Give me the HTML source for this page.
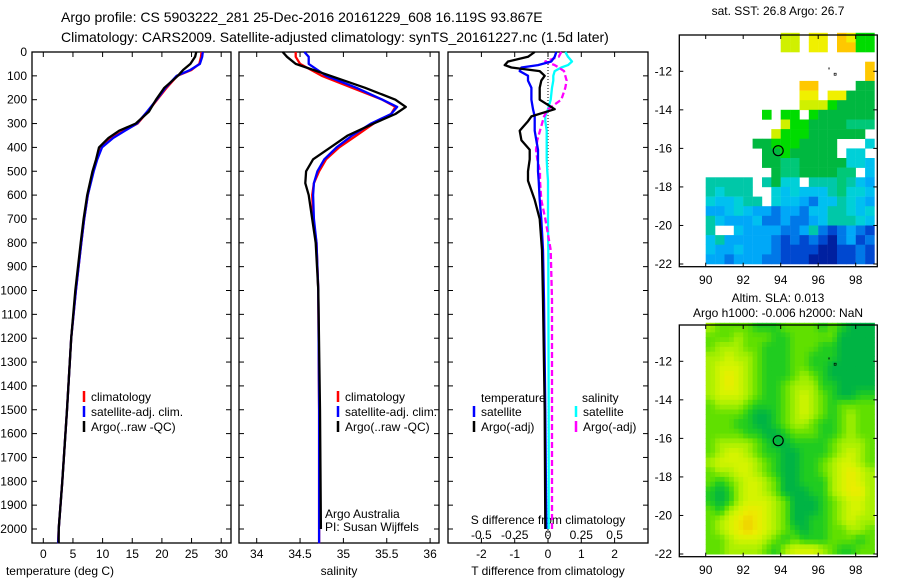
<!DOCTYPE html>
<html><head><meta charset="utf-8"><style>
html,body{margin:0;padding:0;background:#fff;}
svg{display:block;font-family:"Liberation Sans",sans-serif;}
text{fill:#000;}
</style></head><body>
<svg id="fig" width="900" height="580" viewBox="0 0 900 580">
<text x="61" y="22" font-size="14">Argo profile: CS 5903222_281 25-Dec-2016 20161229_608 16.119S 93.867E</text>
<text x="61" y="42" font-size="14">Climatology: CARS2009. Satellite-adjusted climatology: synTS_20161227.nc (1.5d later)</text>
<text x="60" y="575" font-size="12" text-anchor="middle">temperature (deg C)</text>
<text x="339" y="575" font-size="12" text-anchor="middle">salinity</text>
<text x="548" y="575" font-size="12" text-anchor="middle">T difference from climatology</text>
<text x="548" y="524" font-size="12" text-anchor="middle">S difference from climatology</text>
<text x="325" y="518" font-size="12">Argo Australia</text>
<text x="325" y="531" font-size="12">PI: Susan Wijffels</text>
<text x="778" y="15" font-size="12" text-anchor="middle">sat. SST: 26.8 Argo: 26.7</text>
<text x="778" y="302" font-size="12" text-anchor="middle">Altim. SLA: 0.013</text>
<text x="778" y="317" font-size="12" text-anchor="middle">Argo h1000: -0.006 h2000: NaN</text>
<text transform="translate(893,450) rotate(-90)" font-size="12" text-anchor="middle">©IMOS 03-Jan-2017 20:40:44</text>
</svg>
<script>
// ---- data ----
const depthTicks=[0,100,200,300,400,500,600,700,800,900,1000,1100,1200,1300,1400,1500,1600,1700,1800,1900,2000];
const tempTicks=[0,5,10,15,20,25,30];
const salTicks=[34,34.5,35,35.5,36];
const tdiffTicks=[-2,-1,0,1,2];
const sdiffTicks=[-0.5,-0.25,0,0.25,0.5];
const sdiffTickLabels=["-0.5","-0.25","0","0.25","0.5"];

const tDepth=[0,20,50,75,100,150,200,250,300,330,360,400,450,500,600,700,800,1000,1200,1500,1800,2000,2060];
const tClim=[26.7,26.6,26.3,25.0,22.6,20.8,19.2,17.6,15.9,13.6,11.5,9.7,9.0,8.4,7.5,6.9,6.4,5.5,4.7,4.0,3.2,2.6,2.5];
const tSat=[26.9,26.8,26.4,24.8,22.5,20.6,19.1,17.5,15.8,13.8,11.8,9.9,9.1,8.5,7.5,6.9,6.4,5.5,4.7,4.0,3.2,2.6,2.5];
const tArgo=[25.8,25.6,24.8,23.6,22.7,20.4,19.0,17.8,15.6,12.8,11.0,9.4,8.9,8.3,7.4,6.8,6.3,5.4,4.7,4.0,3.2,2.6,2.6];

const sDepth=[0,20,50,100,150,200,230,260,300,350,400,450,500,550,600,700,800,1000,1500,2000,2060];
const sClim=[34.45,34.45,34.5,34.75,35.1,35.45,35.6,35.55,35.35,35.15,34.95,34.8,34.72,34.66,34.64,34.65,34.69,34.71,34.72,34.72,34.72];
const sSat=[34.55,34.6,34.6,34.8,35.15,35.45,35.62,35.55,35.32,35.1,34.92,34.78,34.7,34.66,34.65,34.66,34.69,34.71,34.72,34.72,34.72];
const sArgo=[34.3,34.35,34.45,34.85,35.25,35.6,35.72,35.6,35.35,35.05,34.85,34.65,34.57,34.56,34.6,34.64,34.68,34.71,34.73,34.74];

const dDepth=[0,20,40,55,65,80,100,120,150,200,240,270,290,330,370,410,450,500,540,620,700,830,1040,1500,2000];
const tdSat=[0.25,0.2,0.1,-0.3,-0.8,-0.85,-0.6,-0.6,-0.5,-0.5,-0.45,-0.4,-0.4,-0.4,-0.35,-0.3,-0.3,-0.3,-0.28,-0.25,-0.2,-0.15,-0.12,-0.08,-0.05];
const tdArgo=[-0.4,-0.6,-1.2,-1.3,-1.1,-0.25,-0.1,-0.2,-0.25,-0.25,0.2,-0.5,-0.6,-0.85,-0.8,-0.55,-0.55,-0.6,-0.6,-0.4,-0.25,-0.18,-0.15,-0.1,-0.08];
const sdSat=[0.13,0.15,0.18,0.15,0.1,0.05,0.04,0.04,0.03,0.02,0.0,-0.02,-0.02,-0.01,-0.01,-0.01,-0.01,-0.005,0.0,0.0,0.0,0.002,0.003,0.005,0.005];
const sdArgo=[0.1,0.08,-0.02,0.05,0.08,0.12,0.13,0.14,0.13,0.1,0.0,-0.03,-0.04,-0.06,-0.08,-0.09,-0.08,-0.06,-0.06,-0.05,-0.02,0.02,0.03,0.03,0.03];

const sstRows=[
"........ll.yy.oygg","........ll.yy.oogg","..................",".................o",".................o",
"..........oo....GG","..........yy.yyGGG","..........lllgGGGG","......g.gg.gGGGGGG","........lggGGGGTTT",
".......lgggGGGGGG.",".....GGgggGGGG...c","......GGgGGGGG.cc.","......GGTTGGGGGcca",".......GTTGGGGTT.a",
"ttttt.tGcc.tttTtab","tcttt..cacaaatTcca","caactt.caabBaatcab","bbacabbBbbBaattcac","tabbbaBBbBBbatttca",
"t..abbbbBBbtBdBbBd","atbbbbbBdBdBdnBbdB","abbabbbBddddnnddBd","bbBbbbBBdddnnnddBd"];
const slaRows=[
"lggggGGGggggGgGDDD","ggglgggGGgggggDDDD","glllggGGGgggGGDDDD","llyllgGGGggGGGDDDD","lyyylgGGGggGGDDDDD",
"lyYylgGGGglgGDDDDD","lyYylgGGglllGGDDDD","lyyylgGGglylgGDDGG","glllgGGGglylgGgggg","ggggGDDGglylgGglgg",
"gggGGDDGgllgGGglgg","ggggGGDDGgggGGglgg","gllllgGDDGGGGglllg","glyylgGGDDGGGglylg","lyyyylgGDDGGglyylg",
"gllyylgGDDGGglyYyl","gGglyylgDDGGGlyYyl","GDGlyylgDDDGGlyYYl","GDGlyyylgDDDGglyyl","gGlyYYylgDDDGglyyl",
"glyYoYylgDDGGglyll","glyYoYylgGDGGggllg","gglyyylgGgGGGgggGg","ggllllgGlyyylgGGgg"];
const mapLonTicks=[90,92,94,96,98];
const mapLatTicks=[-12,-14,-16,-18,-20,-22];
const argoLon=93.867, argoLat=-16.119;

// ---- helpers ----
const NS="http://www.w3.org/2000/svg";
const svg=document.getElementById('fig');
function mk(tag,at,parent){const e=document.createElementNS(NS,tag);for(const k in at)e.setAttribute(k,at[k]);(parent||svg).appendChild(e);return e;}
const Y0=52, YPX=0.2385;
function yD(d){return Y0+d*YPX;}
const TOP=52,BOT=543;
function xT(v){return 43.3+v*5.93;}
function xS(v){return 256.7+(v-34)*86.7;}
function xTD(v){return 548+v*33.3;}
function xSD(v){return 548+v*133.2;}

function panel(x0,x1,name){
  const r=mk('rect',{x:x0,y:TOP,width:x1-x0,height:BOT-TOP,fill:'none',stroke:'#000','stroke-width':1.3});
  
  
  depthTicks.forEach(d=>{
    const y=yD(d);
    mk('line',{x1:x0,x2:x0+5,y1:y,y2:y,stroke:'#000'});
    mk('line',{x1:x1-5,x2:x1,y1:y,y2:y,stroke:'#000'});
  });
}
function xticks(vals,fx,labels,x0,x1,ly,name){
  vals.forEach((v,i)=>{
    const x=fx(v);
    mk('line',{x1:x,x2:x,y1:TOP,y2:TOP+5,stroke:'#000'});
    mk('line',{x1:x,x2:x,y1:BOT-5,y2:BOT,stroke:'#000'});
    const t=mk('text',{x:x,y:ly,'font-size':12,'text-anchor':'middle'});
    t.textContent=labels?labels[i]:String(v);
    
    
  });
}
function line(xs,ds,fx,col,name,dash){
  let p='';
  xs.forEach((v,i)=>{p+=(i?'L':'M')+fx(v).toFixed(1)+','+yD(ds[i]).toFixed(1);});
  const at={d:p,fill:'none',stroke:col,'stroke-width':2.3,'stroke-linejoin':'round'};
  if(dash)at['stroke-dasharray']=dash;
  const e=mk('path',at);
  
  
}
function legend(x,y,col,label,name){
  mk('line',{x1:x,x2:x,y1:y-6,y2:y+5,stroke:col,'stroke-width':2.5});
  const t=mk('text',{x:x+7,y:y+4,'font-size':12});
  t.textContent=label;
  
  
}

// panel 1
panel(32,231,'temperature-panel');
depthTicks.forEach(d=>{
  const t=mk('text',{x:27,y:yD(d)+4,'font-size':12,'text-anchor':'end'});
  t.textContent=String(d);
  
  
});
xticks(tempTicks,xT,null,32,231,558,'temperature');
line(tClim,tDepth,xT,'#ff0000','temperature-climatology-line');
line(tSat,tDepth,xT,'#0000ff','temperature-satellite-line');
line(tArgo,tDepth,xT,'#000000','temperature-argo-line');
legend(84,397,'#ff0000','climatology','legend-climatology');
legend(84,412,'#0000ff','satellite-adj. clim.','legend-satellite');
legend(84,427,'#000000','Argo(..raw -QC)','legend-argo');

// panel 2
panel(239,439,'salinity-panel');
xticks(salTicks,xS,null,239,439,558,'salinity');
line(sClim,sDepth,xS,'#ff0000','salinity-climatology-line');
line(sSat,sDepth,xS,'#0000ff','salinity-satellite-line');
line(sArgo,sDepth.slice(0,sArgo.length),xS,'#000000','salinity-argo-line');
legend(338,397,'#ff0000','climatology','legend-s-climatology');
legend(338,412,'#0000ff','satellite-adj. clim.','legend-s-satellite');
legend(338,427,'#000000','Argo(..raw -QC)','legend-s-argo');

// panel 3
panel(448,648,'difference-panel');
xticks(tdiffTicks,xTD,null,448,648,558,'t-diff');
sdiffTicks.forEach((v,i)=>{
  const t=mk('text',{x:xSD(v),y:539,'font-size':12,'text-anchor':'middle'});
  t.textContent=sdiffTickLabels[i];
  
  
});
mk('line',{x1:548,x2:548,y1:TOP,y2:BOT,stroke:'#000','stroke-width':1,'stroke-dasharray':'1,2'});
line(sdSat,dDepth,xSD,'#00ffff','s-diff-satellite-line');
line(sdArgo,dDepth,xSD,'#ff00ff','s-diff-argo-line','6,3');
line(tdSat,dDepth,xTD,'#0000ff','t-diff-satellite-line');
line(tdArgo,dDepth,xTD,'#000000','t-diff-argo-line');
{const t=mk('text',{x:481,y:402,'font-size':12});t.textContent='temperature';}
{const t=mk('text',{x:582,y:402,'font-size':12});t.textContent='salinity';}
legend(474,412,'#0000ff','satellite','legend-t-satellite');
legend(474,427,'#000000','Argo(-adj)','legend-t-argo');
legend(576,412,'#00ffff','satellite','legend-s-satellite-diff');
legend(576,427,'#ff00ff','Argo(-adj)','legend-s-argo-diff');

// maps
const sstCol={o:'#ffc800',y:'#f0f000',l:'#d0f000',g:'#00dc00',G:'#00b840',T:'#00c878',t:'#00c8a8',c:'#00d0d8',a:'#00c0f0',b:'#00a8f8',B:'#0078e8',d:'#0048d0',n:'#0020a0'};
const slaLevel={D:0,G:1,g:2,l:3,y:4,Y:5,o:6};
const slaRamp=[[0,180,68],[32,204,32],[96,224,0],[168,240,0],[212,244,0],[236,236,0],[240,208,0]];
function lonX(l){return 705.7+(l-90)*18.75;}
function frame(top,name){
  mk('rect',{x:877.3,y:top,width:20,height:232,fill:'#fff'});
  const b=mk('rect',{x:679.3,y:top,width:198,height:231.7,fill:'none',stroke:'#000','stroke-width':1.3});
  
  
  const latY=v=>top+36.3+(-12-v)*19.27;
  mapLonTicks.forEach(l=>{
    const x=lonX(l);
    mk('line',{x1:x,x2:x,y1:top,y2:top+4,stroke:'#000'});
    mk('line',{x1:x,x2:x,y1:top+231.7-4,y2:top+231.7,stroke:'#000'});
    const t=mk('text',{x:x,y:top+249,'font-size':12,'text-anchor':'middle'});
    t.textContent=String(l);
    
    
  });
  mapLatTicks.forEach(v=>{
    const y=latY(v);
    mk('line',{x1:679.3,x2:683.3,y1:y,y2:y,stroke:'#000'});
    mk('line',{x1:873.3,x2:877.3,y1:y,y2:y,stroke:'#000'});
    const t=mk('text',{x:672,y:y+4,'font-size':12,'text-anchor':'end'});
    t.textContent=String(v);
    
    
  });
  const c=mk('circle',{cx:lonX(argoLon),cy:latY(argoLat),r:5,fill:'none',stroke:'#000','stroke-width':1.2});
  
  
  mk('rect',{x:lonX(96.55),y:latY(-11.8),width:1,height:2,fill:'#000'});
  mk('rect',{x:lonX(96.85),y:latY(-12.1),width:2,height:2,fill:'none',stroke:'#000','stroke-width':0.7});
}
// SST map (discrete)
(function(){
  const top=35, latY=v=>top+36.3+(-12-v)*19.27;
  sstRows.forEach((row,ri)=>{
    for(let ci=0;ci<18;ci++){
      const c=row[ci];
      if(!c||c==='.')continue;
      const r=mk('rect',{x:lonX(90+ci*0.5).toFixed(1),y:latY(-10-ri*0.5).toFixed(1),width:9.6,height:9.9,fill:sstCol[c]||'#fff'});
      
      
    }
  });
  frame(top,'sst-map');
})();
// SLA map (smoothed)
(function(){
  const top=325, latY=v=>top+36.3+(-12-v)*19.27;
  const g=slaRows.map(r=>{const a=[];for(let i=0;i<18;i++)a.push(slaLevel[r[i]]!==undefined?slaLevel[r[i]]:2);return a;});
  const val=(r,c)=>{r=Math.max(0,Math.min(23,r));c=Math.max(0,Math.min(17,c));
    const r0=Math.floor(r),c0=Math.floor(c),r1=Math.min(23,r0+1),c1=Math.min(17,c0+1),fr=r-r0,fc=c-c0;
    return g[r0][c0]*(1-fr)*(1-fc)+g[r0][c1]*(1-fr)*fc+g[r1][c0]*fr*(1-fc)+g[r1][c1]*fr*fc;};
  for(let ri=0;ri<48;ri++)for(let ci=0;ci<36;ci++){
    const v=val(ri/2-0.25,ci/2-0.25);
    const i=Math.min(5,Math.floor(v)),f=v-i;
    const a=slaRamp[i],b=slaRamp[i+1];
    const col='rgb('+a.map((x,k)=>Math.round(x+(b[k]-x)*f)).join(',')+')';
    const r=mk('rect',{x:lonX(90+ci*0.25).toFixed(1),y:latY(-10-ri*0.25).toFixed(1),width:5.1,height:5.3,fill:col});
    
    
  }
  frame(top,'sla-map');
})();
</script>
</body></html>
